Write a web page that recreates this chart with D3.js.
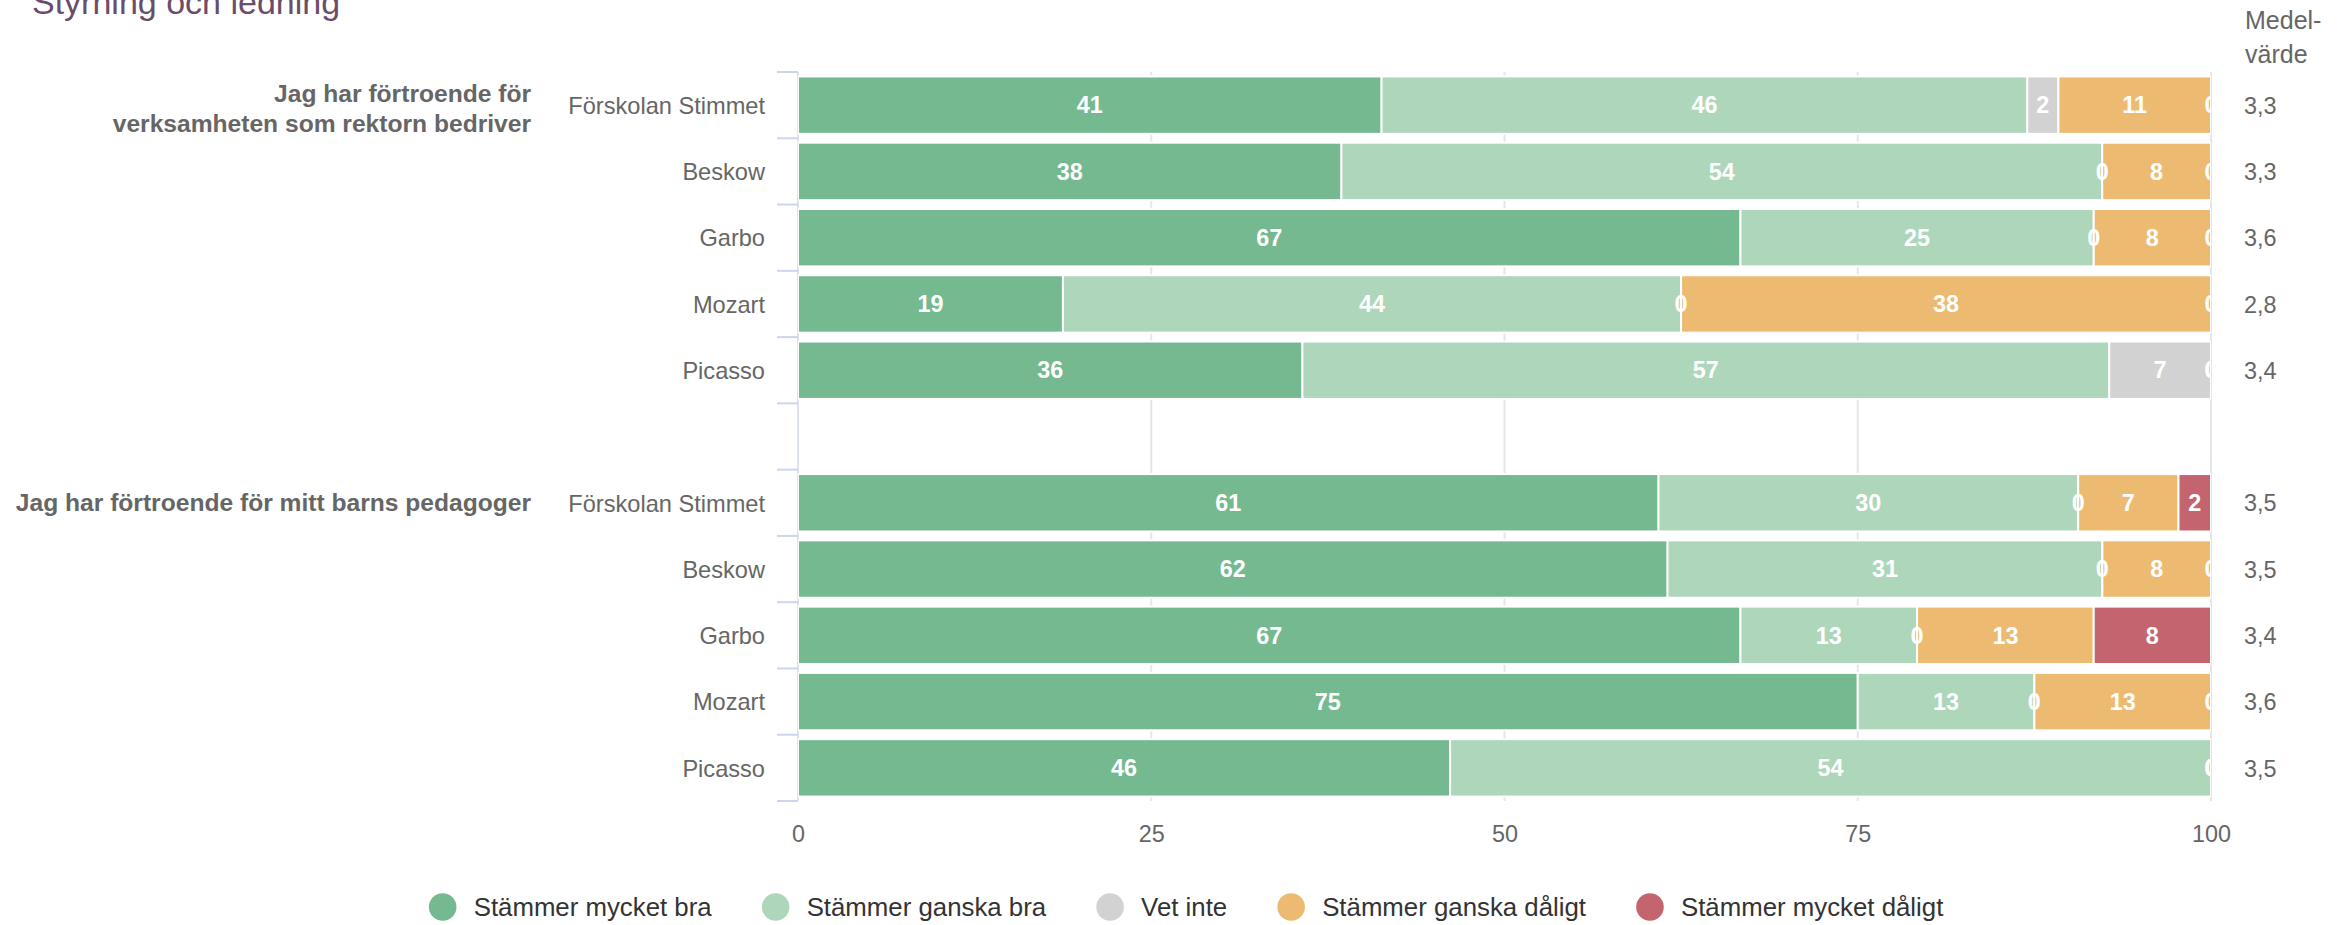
<!DOCTYPE html>
<html>
<head>
<meta charset="utf-8">
<script src="https://cdn.jsdelivr.net/npm/d3@7"></script>
<style>
  body { margin: 0; background: #fff; }
  svg { display: block; font-family: "Liberation Sans", Arial, Helvetica, sans-serif; }
</style>
</head>
<body>
<svg id="chart" width="2344" height="925"></svg>
<script>
// data (percent of answers per unit)
const questions = [
  ['Jag har förtroende för', 'verksamheten som rektorn bedriver'],
  ['Jag har förtroende för mitt barns pedagoger']
];
const units = ['Förskolan Stimmet', 'Beskow', 'Garbo', 'Mozart', 'Picasso'];
const seriesNames = ['Stämmer mycket bra', 'Stämmer ganska bra', 'Vet inte', 'Stämmer ganska dåligt', 'Stämmer mycket dåligt'];
const seriesColors = ['#75b990', '#aed6bb', '#d2d2d2', '#ecbb71', '#c3646e'];

// rows: question 1 (5 units), then question 2 (5 units)
const mycketBra    = [41.3, 38.46, 66.7, 18.75, 35.7, 60.9, 61.54, 66.7, 75.0, 46.15];
const ganskaBra    = [45.7, 53.84, 25.0, 43.75, 57.1, 29.7, 30.77, 12.5, 12.5, 53.85];
const vetInte      = [2.2, 0, 0, 0, 7.2, 0, 0, 0, 0, 0];
const ganskaDaligt = [10.8, 7.7, 8.3, 37.5, 0, 7.1, 7.69, 12.5, 12.5, 0];
const mycketDaligt = [0, 0, 0, 0, 0, 2.3, 0, 8.3, 0, 0];
const medelvarde   = ['3,3', '3,3', '3,6', '2,8', '3,4', '3,5', '3,5', '3,4', '3,6', '3,5'];
const xTicks = [0, 25, 50, 75, 100];

const series = [mycketBra, ganskaBra, vetInte, ganskaDaligt, mycketDaligt];

const svg = d3.select('#chart'),
  margin = { top: 72, right: 133, bottom: 124, left: 798 },
  width = 2344 - margin.left - margin.right,
  height = 925 - margin.top - margin.bottom;

// row keys, with an empty slot between the two questions
const rows = [];
questions.forEach((q, qi) => {
  if (qi > 0) rows.push({ key: 'gap' + qi, gap: true });
  units.forEach((u, ui) => rows.push({ key: qi + '-' + ui, q: qi, unit: u, idx: qi * units.length + ui }));
});

const x = d3.scaleLinear().domain([0, 100]).range([0, width]);
const y = d3.scaleBand().domain(rows.map(r => r.key)).range([0, height]).paddingInner(0);
const barH = y.bandwidth() * 0.866;

svg.append('text')
  .attr('x', 32).attr('y', 14)
  .attr('font-size', 34).attr('fill', '#6b4c6b')
  .text('Styrning och ledning');

const g = svg.append('g').attr('transform', `translate(${margin.left},${margin.top})`);

// grid
g.append('g').selectAll('line')
  .data(xTicks).enter().append('line')
  .attr('x1', d => x(d)).attr('x2', d => x(d))
  .attr('y1', 0).attr('y2', height)
  .attr('stroke', '#e6e6e6').attr('stroke-width', 2);

// category axis line and ticks at band edges
g.append('line')
  .attr('x1', 0).attr('x2', 0).attr('y1', 0).attr('y2', height)
  .attr('stroke', '#dde3ee').attr('stroke-width', 2);
const edges = rows.map(r => y(r.key)).concat([height]);
g.append('g').selectAll('line')
  .data(edges).enter().append('line')
  .attr('x1', -21).attr('x2', 0)
  .attr('y1', d => d).attr('y2', d => d)
  .attr('stroke', '#ccd6eb').attr('stroke-width', 2);

// x axis labels
const xAxis = g.append('g')
  .attr('transform', `translate(0,${height + 24})`)
  .call(d3.axisBottom(x).tickValues(xTicks).tickSize(0).tickPadding(0));
xAxis.select('.domain').remove();
xAxis.selectAll('text')
  .attr('font-size', 23.4).attr('fill', '#666')
  .attr('font-family', '"Liberation Sans", Arial, sans-serif');

const dataRows = rows.filter(r => !r.gap);

// stacked bars
const stack = dataRows.map(r => {
  let acc = 0;
  return series.map((s, si) => {
    const v = s[r.idx];
    const seg = { row: r, si: si, v: v, x0: acc, x1: acc + v };
    acc += v;
    return seg;
  });
});
const segs = stack.flat();

svg.append('clipPath').attr('id', 'plotclip')
  .append('rect').attr('x', 0).attr('y', -10).attr('width', width).attr('height', height + 20);

const plot = g.append('g').attr('clip-path', 'url(#plotclip)');

plot.selectAll('.bar')
  .data(segs.filter(d => d.v > 0))
  .enter().append('rect')
  .attr('class', 'bar')
  .attr('x', d => x(d.x0))
  .attr('width', d => x(d.x1) - x(d.x0))
  .attr('y', d => y(d.row.key) + (y.bandwidth() - barH) / 2)
  .attr('height', barH)
  .attr('fill', d => seriesColors[d.si])
  .attr('stroke', '#fff').attr('stroke-width', 2);

plot.selectAll('.lbl')
  .data(segs)
  .enter().append('text')
  .attr('class', 'lbl')
  .attr('x', d => x((d.x0 + d.x1) / 2))
  .attr('y', d => y(d.row.key) + y.bandwidth() / 2)
  .attr('dy', '0.35em')
  .attr('text-anchor', 'middle')
  .attr('font-size', 23.4).attr('font-weight', 'bold').attr('fill', '#fff')
  .text(d => Math.round(d.v));

// unit labels
g.selectAll('.unit')
  .data(dataRows).enter().append('text')
  .attr('class', 'unit')
  .attr('x', -33)
  .attr('y', d => y(d.key) + y.bandwidth() / 2)
  .attr('dy', '0.37em')
  .attr('text-anchor', 'end')
  .attr('font-size', 23.6).attr('fill', '#666')
  .text(d => d.unit);

// question labels, on the first unit of each question
questions.forEach((lines, qi) => {
  const cy = y(qi + '-0') + y.bandwidth() / 2;
  const t = g.append('text')
    .attr('text-anchor', 'end')
    .attr('font-size', 24.6).attr('font-weight', 'bold').attr('fill', '#666');
  const off = lines.length > 1 ? -12 : 0;
  lines.forEach((l, li) => {
    t.append('tspan').attr('x', -267).attr('y', cy + off + li * 30).attr('dy', '0.35em').text(l);
  });
});

// mean value column
g.selectAll('.mean')
  .data(dataRows).enter().append('text')
  .attr('class', 'mean')
  .attr('x', width + 33)
  .attr('y', d => y(d.key) + y.bandwidth() / 2)
  .attr('dy', '0.37em')
  .attr('font-size', 23.4).attr('fill', '#666')
  .text(d => medelvarde[d.idx]);

const head = svg.append('text').attr('font-size', 25).attr('fill', '#666');
head.append('tspan').attr('x', 2245).attr('y', 29).text('Medel-');
head.append('tspan').attr('x', 2245).attr('y', 63).text('värde');

// legend
const legend = svg.append('g');
let lx = 0;
seriesNames.forEach((name, i) => {
  const item = legend.append('g').attr('transform', `translate(${lx},0)`);
  item.append('circle').attr('cx', 14).attr('cy', 0).attr('r', 13.8).attr('fill', seriesColors[i]);
  const t = item.append('text')
    .attr('x', 45).attr('y', 0).attr('dy', '0.35em')
    .attr('font-size', 25.8).attr('fill', '#333')
    .text(name);
  lx += 45 + t.node().getComputedTextLength() + 50;
});
const legendW = lx - 50;
legend.attr('transform', `translate(${1186 - legendW / 2},907)`);
</script>
</body>
</html>
